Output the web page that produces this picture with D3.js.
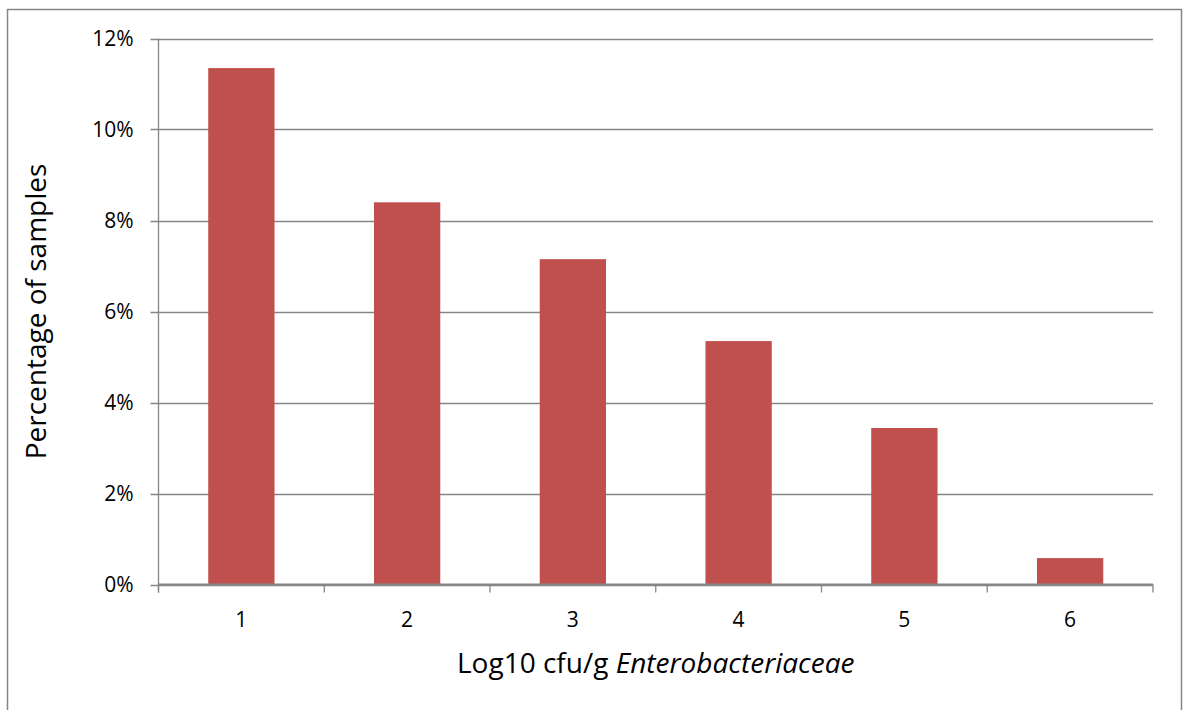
<!DOCTYPE html>
<html><head><meta charset="utf-8">
<script src="https://cdn.jsdelivr.net/npm/d3@7"></script>
<style>body{margin:0;background:#fff}svg{display:block}text{font-family:"Open Sans",Lato,sans-serif;fill:#000}</style>
</head><body>
<svg id="c" width="1184" height="710"></svg>
<script>
const categories = ["1","2","3","4","5","6"];
const values = [11.35, 8.4, 7.15, 5.35, 3.44, 0.58];
const yTicks = [0,2,4,6,8,10,12];

const svg = d3.select("#c");
svg.append("rect").attr("x",7.5).attr("y",9.5).attr("width",1174).attr("height",720)
  .attr("fill","#fff").attr("stroke","#868686").attr("stroke-width",1.5);

const L=158.5, R=1153, T=38.5, B=584.5;
const x = d3.scaleBand().domain(categories).range([L,R]).paddingInner(0.6).paddingOuter(0.3);
const y = d3.scaleLinear().domain([0,12]).range([B,T]);

const g = svg.append("g");
g.selectAll("line.grid").data(yTicks).join("line")
  .attr("x1",L-8).attr("x2",R).attr("y1",d=>Math.round(y(d))+0.5).attr("y2",d=>Math.round(y(d))+0.5)
  .attr("stroke","#868686").attr("stroke-width",1.3);
g.append("line").attr("x1",L).attr("x2",L).attr("y1",T).attr("y2",B+8).attr("stroke","#868686").attr("stroke-width",1.3);
g.selectAll("rect.bar").data(values).join("rect")
  .attr("x",(d,i)=>x(categories[i])).attr("width",x.bandwidth())
  .attr("y",d=>y(d)).attr("height",d=>B-y(d)).attr("fill","#C0504D");
g.append("line").attr("x1",L).attr("x2",R).attr("y1",B).attr("y2",B).attr("stroke","#868686").attr("stroke-width",2);
const step=(R-L)/categories.length;
g.selectAll("line.xt").data(d3.range(categories.length+1)).join("line")
  .attr("x1",i=>L+i*step).attr("x2",i=>L+i*step).attr("y1",B).attr("y2",B+8)
  .attr("stroke","#868686").attr("stroke-width",1.3);
g.selectAll("text.yl").data(yTicks).join("text")
  .attr("x",L-25).attr("y",d=>y(d)+7.5).attr("text-anchor","end").attr("font-size",21)
  .text(d=>d+"%");
g.selectAll("text.xl").data(categories).join("text")
  .attr("x",d=>x(d)+x.bandwidth()/2).attr("y",B+42).attr("text-anchor","middle").attr("font-size",21)
  .text(d=>d);
const xt = svg.append("text").attr("x",(L+R)/2).attr("y",673).attr("text-anchor","middle").attr("font-size",28);
xt.append("tspan").text("Log10 cfu/g ");
xt.append("tspan").attr("font-style","italic").text("Enterobacteriaceae");
svg.append("text").attr("transform",`translate(46,${(T+B)/2}) rotate(-90)`).attr("text-anchor","middle")
  .attr("font-size",28).text("Percentage of samples");
</script>
</body></html>
